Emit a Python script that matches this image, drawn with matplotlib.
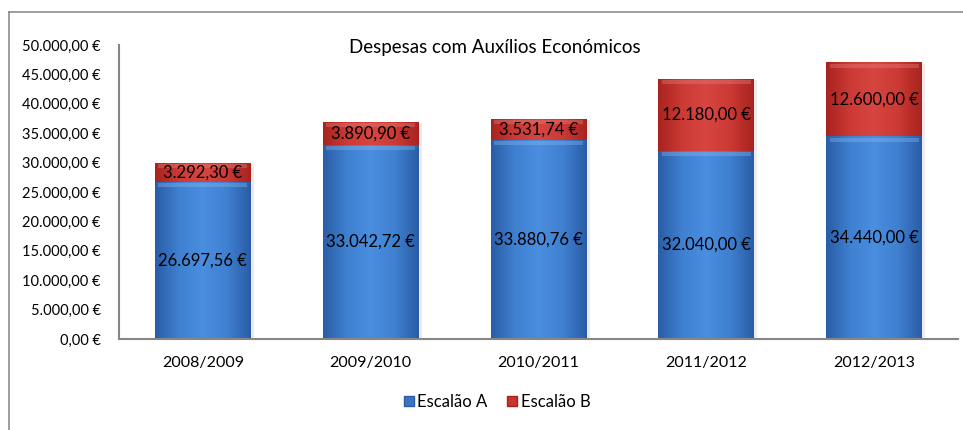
import numpy as np
import matplotlib
matplotlib.use('Agg')
import matplotlib.pyplot as plt
from matplotlib.patches import Rectangle, Patch
from matplotlib.lines import Line2D
from matplotlib.colors import LinearSegmentedColormap
from matplotlib.ticker import FuncFormatter

# dados
anos = ['2008/2009', '2009/2010', '2010/2011', '2011/2012', '2012/2013']
escalao_a = [26697.56, 33042.72, 33880.76, 32040.00, 34440.00]
escalao_b = [3292.30, 3890.90, 3531.74, 12180.00, 12600.00]
titulo = 'Despesas com Auxílios Económicos'


def euro(v):
    s = f'{v:,.2f}'.replace(',', 'X').replace('.', ',').replace('X', '.')
    return s + ' €'


plt.rcParams['font.family'] = ['Lato', 'DejaVu Sans']

fig = plt.figure(figsize=(9.63, 4.30), dpi=100)
ax = fig.add_axes([119 / 963, 1 - 339 / 430, (958 - 119) / 963, (339 - 45) / 430])

# gradientes tipo "vidro" do Excel
cm_azul = LinearSegmentedColormap.from_list('azul', ['#2a5da6', '#3f80d0', '#4a8ee0', '#3f80d0', '#2a5da6'])
cm_verm = LinearSegmentedColormap.from_list('verm', ['#a8231f', '#cc3a35', '#d6453f', '#cc3a35', '#a8231f'])
grad = np.linspace(0, 1, 256).reshape(1, -1)

x = np.arange(len(anos))
largura = 0.57


def barra(xc, base, altura, cmap, realce):
    x0 = xc - largura / 2
    # sombra
    ax.add_patch(Rectangle((x0 + 0.02, base - 250), largura, altura, color='#000000',
                           alpha=0.08, lw=0, zorder=1))
    rect = Rectangle((x0, base), largura, altura, facecolor='none', edgecolor='none', zorder=2)
    ax.add_patch(rect)
    im = ax.imshow(grad, cmap=cmap, aspect='auto', extent=(x0, x0 + largura, base, base + altura),
                   zorder=2, interpolation='bicubic')
    im.set_clip_path(rect)
    # realce no topo
    ax.add_patch(Rectangle((x0 + 0.02, base + altura - 900), largura - 0.04, 650,
                           color=realce, alpha=0.35, lw=0, zorder=3))


for i in range(len(anos)):
    barra(x[i], 0, escalao_a[i], cm_azul, '#8fbcf0')
    barra(x[i], escalao_a[i], escalao_b[i], cm_verm, '#e88a85')
    ax.text(x[i], escalao_a[i] / 2, euro(escalao_a[i]), ha='center', va='center',
            fontsize=12, color='black', zorder=5)
    ax.text(x[i], escalao_a[i] + escalao_b[i] / 2, euro(escalao_b[i]), ha='center', va='center',
            fontsize=12, color='black', zorder=5)

ax.set_xlim(-0.5, len(anos) - 0.5)
ax.set_ylim(0, 50000)
ax.set_yticks(np.arange(0, 50001, 5000))
ax.yaxis.set_major_formatter(FuncFormatter(lambda v, p: euro(v)))
ax.set_xticks(x)
ax.set_xticklabels(anos)
ax.tick_params(axis='y', length=0, labelsize=10.5, pad=13)
ax.tick_params(axis='x', length=0, labelsize=11.5, pad=12)

for s in ['top', 'right']:
    ax.spines[s].set_visible(False)
for s in ['left', 'bottom']:
    ax.spines[s].set_color('#868686')
    ax.spines[s].set_linewidth(1.5)

fig.text(495 / 963, 1 - 47 / 430, titulo, ha='center', va='center', fontsize=13.5)

leg = [Patch(facecolor='#3a74c0', edgecolor='#2a5da6', label='Escalão A'),
       Patch(facecolor='#c8342f', edgecolor='#a8231f', label='Escalão B')]
fig.legend(handles=leg, loc='center', bbox_to_anchor=(497 / 963, 1 - 402 / 430), ncol=2,
           frameon=False, fontsize=12, handlelength=0.6, handleheight=0.6,
           handletextpad=0.2, columnspacing=1.2)

# moldura do gráfico
fig.add_artist(Line2D([8.5 / 963, 8.5 / 963], [0, 1 - 12 / 430], color='#8c8c8c', lw=1.2,
                      transform=fig.transFigure))
fig.add_artist(Line2D([8.5 / 963, 1], [1 - 12 / 430, 1 - 12 / 430], color='#8c8c8c', lw=1.2,
                      transform=fig.transFigure))

fig.savefig('out.png', dpi=100)
